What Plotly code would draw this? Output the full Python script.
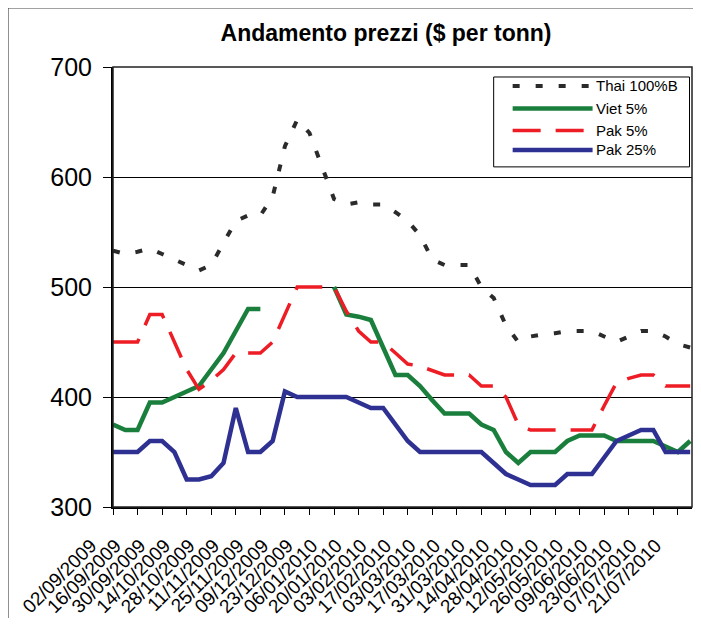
import plotly.graph_objects as go

dates = ["02/09/2009", "09/09/2009", "16/09/2009", "23/09/2009", "30/09/2009", "07/10/2009",
         "14/10/2009", "21/10/2009", "28/10/2009", "04/11/2009", "11/11/2009", "18/11/2009",
         "25/11/2009", "02/12/2009", "09/12/2009", "16/12/2009", "23/12/2009", "30/12/2009",
         "06/01/2010", "13/01/2010", "20/01/2010", "27/01/2010", "03/02/2010", "10/02/2010",
         "17/02/2010", "24/02/2010", "03/03/2010", "10/03/2010", "17/03/2010", "24/03/2010",
         "31/03/2010", "07/04/2010", "14/04/2010", "21/04/2010", "28/04/2010", "05/05/2010",
         "12/05/2010", "19/05/2010", "26/05/2010", "02/06/2010", "09/06/2010", "16/06/2010",
         "23/06/2010", "30/06/2010", "07/07/2010", "14/07/2010", "21/07/2010", "28/07/2010"]

tick_labels = ["02/09/2009", "16/09/2009", "30/09/2009", "14/10/2009", "28/10/2009", "11/11/2009",
               "25/11/2009", "09/12/2009", "23/12/2009", "06/01/2010", "20/01/2010", "03/02/2010",
               "17/02/2010", "03/03/2010", "17/03/2010", "31/03/2010", "14/04/2010", "28/04/2010",
               "12/05/2010", "26/05/2010", "09/06/2010", "23/06/2010", "07/07/2010", "21/07/2010"]

thai_100b = [533, 530, 532, 535, 530, 525, 520, 515, 520, 540, 560, 565,
             565, 582, 628, 652, 640, 610, 580, 575, 577, 575, 575, 568,
             560, 547, 525, 520, 520, 520, 500, 490, 465, 450, 455, 457,
             458, 460, 460, 460, 455, 450, 455, 460, 460, 455, 448, 445]

viet_5 = [375, 370, 370, 395, 395, 400, 405, 410, 425, 440, 460, 480,
          480, None, None, None, None, None, 500, 475, 473, 470, 445, 420,
          420, 410, 397, 385, 385, 385, 375, 370, 350, 340, 350, 350,
          350, 360, 365, 365, 365, 360, 360, 360, 360, 355, 350, 360]

pak_5 = [450, 450, 450, 475, 475, 450, 425, 407, 415, 425, 440, 440,
         440, 450, 475, 500, 500, 500, 500, 478, 460, 450, 450, 440,
         430, 428, 424, 420, 420, 420, 410, 410, 400, 375, 370, 370,
         370, 370, 370, 370, 392, 413, 417, 420, 420, 410, 410, 410]

pak_25 = [350, 350, 350, 360, 360, 350, 325, 325, 328, 340, 390, 350,
          350, 360, 405, 400, 400, 400, 400, 400, 395, 390, 390, 375,
          360, 350, 350, 350, 350, 350, 350, 340, 330, 325, 320, 320,
          320, 330, 330, 330, 345, 360, 365, 370, 370, 350, 350, 350]

series_names = ["Thai 100%B", "Viet 5%", "Pak 5%", "Pak 25%"]
series_values = [thai_100b, viet_5, pak_5, pak_25]
colors = ["#2b2b2b", "#1a7f3c", "#ee1c24", "#2e3192"]
widths = [4, 4.5, 3.5, 4.5]
dashes = ["7px,16px", "solid", "28px,15px", "solid"]

FONT = "Liberation Sans, Arial, sans-serif"

fig = go.Figure()
for name, vals, col, w, d in zip(series_names, series_values, colors, widths, dashes):
    fig.add_trace(go.Scatter(x=dates, y=vals, name=name, mode="lines",
                             line=dict(color=col, width=w, dash=d),
                             connectgaps=False, showlegend=False))

# The page body has an 8px margin on every side; keep the figure inside it
OFF = 8
W, H = 701 - 2 * OFF, 626 - 2 * OFF
PLOT_L, PLOT_R, PLOT_T, PLOT_B = 113, 692.5, 67, 507.5   # page pixels
L = PLOT_L - OFF
T = PLOT_T - OFF
R = W - (PLOT_R - OFF)
B = H - (PLOT_B - OFF)
pw = W - L - R
ph = H - T - B


def px(x):
    return (x - PLOT_L) / pw


def py(y):
    return (PLOT_B - y) / ph


shapes = []
# outer chart frame (only left/top edges fall inside the picture)
shapes.append(dict(type="rect", xref="paper", yref="paper",
                   x0=px(7.5), x1=px(760), y0=py(700), y1=py(7.5),
                   line=dict(color="#444444", width=2), layer="below"))
# plot frame (top/right)
shapes.append(dict(type="rect", xref="paper", yref="paper", x0=0, x1=1, y0=0, y1=1,
                   line=dict(color="#222222", width=1.5)))
# legend box
shapes.append(dict(type="rect", xref="paper", yref="paper",
                   x0=px(494), x1=px(690), y0=py(167), y1=py(77),
                   line=dict(color="black", width=1), fillcolor="white"))

annotations = []
row_y = [86, 108.5, 130.5, 150]
for name, col, w, d, ry in zip(series_names, colors, widths, dashes, row_y):
    shapes.append(dict(type="line", xref="paper", yref="paper",
                       x0=px(513), x1=px(593), y0=py(ry), y1=py(ry),
                       line=dict(color=col, width=w, dash=d)))
    annotations.append(dict(xref="paper", yref="paper", x=px(594), y=py(ry),
                            text=name, showarrow=False, xanchor="left", yanchor="middle",
                            font=dict(family=FONT, size=15, color="black")))

fig.update_layout(
    width=W, height=H,
    margin=dict(l=L, r=R, t=T, b=B, pad=0, autoexpand=False),
    paper_bgcolor="white", plot_bgcolor="white",
    title=dict(text="Andamento prezzi ($ per tonn)", x=(386 - OFF) / W, xanchor="center",
               y=1 - (33 - OFF) / H, yanchor="middle", yref="container",
               font=dict(family=FONT, size=23, color="black", weight="bold")),
    xaxis=dict(type="category", categoryorder="array", categoryarray=dates,
               range=[0, 47.15], tickmode="array", tickvals=tick_labels, ticktext=tick_labels,
               tickangle=-45, ticks="outside", ticklen=6, tickcolor="black",
               tickfont=dict(family=FONT, size=19, color="black"),
               showline=True, linecolor="black", linewidth=2, showgrid=False,
               ticklabelshift=-22, ticklabelstandoff=12, automargin=False),
    yaxis=dict(range=[300, 700], tickmode="array", tickvals=[300, 400, 500, 600, 700],
               ticks="outside", ticklen=8, tickcolor="black",
               tickfont=dict(family=FONT, size=25, color="black"),
               showline=True, linecolor="black", linewidth=2,
               showgrid=True, gridcolor="black", gridwidth=1, zeroline=False,
               ticklabelstandoff=6, automargin=False),
    shapes=shapes, annotations=annotations,
)

fig.write_html("out.html")
